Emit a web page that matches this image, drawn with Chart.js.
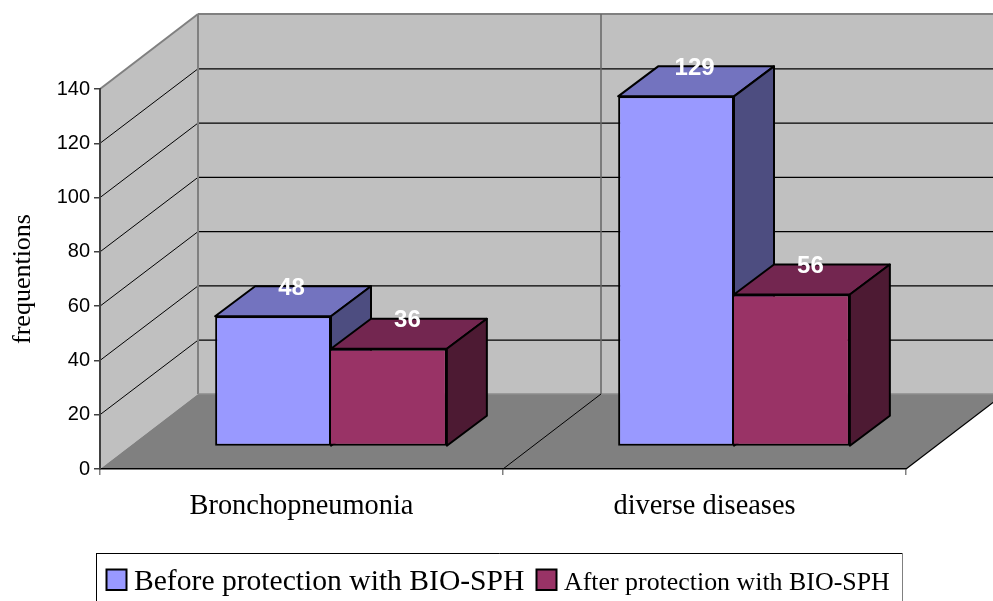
<!DOCTYPE html>
<html>
<head>
<meta charset="utf-8">
<style>html,body{margin:0;padding:0;background:#fff;overflow:hidden}canvas{display:block}</style>
<script src="https://cdn.jsdelivr.net/npm/chart.js@4/dist/chart.umd.min.js"></script>
</head>
<body>
<canvas id="c" width="993" height="601"></canvas>
<script>
const categories = ['Bronchopneumonia', 'diverse diseases'];
const seriesNames = ['Before protection with BIO-SPH', 'After protection with BIO-SPH'];
const beforeValues = [48, 129];
const afterValues = [36, 56];

const FRONT = ['#9999ff', '#993366'];
const TOP = ['#7373bf', '#732650'];
const SIDE = ['#4d4d80', '#4d1a33'];
const SERIF = '"Liberation Serif"';
const SANS = '"Liberation Sans"';
const WALL_DX = 98, WALL_DY = -75;
const BAR_DX = 29.5, BAR_DY = -22.5;
const DEPTH_DX = 40, DEPTH_DY = -30;

function poly(ctx, pts, fill, stroke, lw) {
  ctx.beginPath();
  pts.forEach((p, i) => i ? ctx.lineTo(p[0], p[1]) : ctx.moveTo(p[0], p[1]));
  ctx.closePath();
  if (fill) { ctx.fillStyle = fill; ctx.fill(); }
  if (stroke) { ctx.strokeStyle = stroke; ctx.lineWidth = lw; ctx.lineJoin = 'round'; ctx.stroke(); }
}
function line(ctx, x1, y1, x2, y2, color, lw) {
  ctx.beginPath(); ctx.moveTo(x1, y1); ctx.lineTo(x2, y2);
  ctx.strokeStyle = color; ctx.lineWidth = lw; ctx.stroke();
}

const room3d = {
  id: 'room3d',
  beforeDraw(chart) {
    const { ctx, chartArea: a, scales: { x, y } } = chart;
    const bx = a.left + WALL_DX, rx = a.right + WALL_DX;
    const by = a.bottom + WALL_DY, ty = a.top + WALL_DY;
    ctx.save();
    poly(ctx, [[bx, ty], [rx, ty], [rx, by], [bx, by]], '#c0c0c0');
    poly(ctx, [[a.left, a.top], [bx, ty], [bx, by], [a.left, a.bottom]], '#c0c0c0');
    y.ticks.forEach(t => {
      if (t.value <= 0 || t.value >= y.max) return;
      const py = y.getPixelForValue(t.value);
      line(ctx, a.left, py, bx, py + WALL_DY + 0.5, '#000', 1);
      line(ctx, bx, py + WALL_DY + 0.5, rx, py + WALL_DY + 0.5, '#000', 1.2);
    });
    line(ctx, a.left, a.top, bx, ty, '#808080', 2);
    line(ctx, bx, ty, rx, ty, '#808080', 2);
    poly(ctx, [[a.left, a.bottom], [bx, by], [rx, by], [a.right, a.bottom]], '#808080');
    line(ctx, bx, ty, bx, by, '#808080', 2);
    line(ctx, bx, by, rx, by, '#8c8c8c', 1.5);
    const mid = (x.getPixelForValue(0) + x.getPixelForValue(1)) / 2;
    line(ctx, mid + WALL_DX, ty, mid + WALL_DX, by, '#666666', 1.5);
    line(ctx, mid, a.bottom, mid + WALL_DX, by, '#000', 1);
    line(ctx, a.right, a.bottom, rx, by, '#000', 1.2);
    ctx.restore();
  },
  // Chart.js paints the last dataset first; the boxes need left-to-right order,
  // so each dataset is painted here by its own controller, in dataset order.
  beforeDatasetsDraw(chart) {
    const { ctx } = chart;
    chart.data.datasets.forEach((ds, i) => {
      const meta = chart.getDatasetMeta(i);
      ctx.save();
      ctx.translate(BAR_DX, BAR_DY);
      meta.data.forEach(el => {
        const l = el.x - el.width / 2, r = el.x + el.width / 2, t = el.y, b = el.base;
        poly(ctx, [[l, t], [l + DEPTH_DX, t + DEPTH_DY], [r + DEPTH_DX, t + DEPTH_DY], [r, t]], TOP[i], '#000', 2);
        poly(ctx, [[r, t], [r + DEPTH_DX, t + DEPTH_DY], [r + DEPTH_DX, b + DEPTH_DY], [r, b]], SIDE[i], '#000', 2);
      });
      meta.controller.draw();
      ctx.restore();
    });
  },
  beforeDatasetDraw() {
    return false;
  },
  afterDatasetsDraw(chart) {
    const { ctx } = chart;
    ctx.save();
    ctx.fillStyle = '#fff';
    ctx.font = 'bold 24px ' + SANS;
    ctx.textAlign = 'center';
    ctx.textBaseline = 'middle';
    chart.data.datasets.forEach((ds, i) => {
      chart.getDatasetMeta(i).data.forEach((el, j) => {
        ctx.fillText(String(ds.data[j]), el.x + BAR_DX + DEPTH_DX / 2 - 1.5, el.y + BAR_DY + DEPTH_DY + 2);
      });
    });
    ctx.restore();
  },
  afterDraw(chart) {
    const { ctx } = chart;
    ctx.save();
    line(ctx, 96.5, 601, 96.5, 553.5, '#000', 1);
    line(ctx, 96, 553.5, 902.5, 553.5, '#000', 1);
    line(ctx, 902.5, 553, 902.5, 601, '#808080', 1);
    const items = [
      { sw: 106.5, tx: 134, font: '29.6px ' + SERIF },
      { sw: 536.5, tx: 564, font: '25.9px ' + SERIF }
    ];
    chart.data.datasets.forEach((ds, i) => {
      const it = items[i];
      ctx.fillStyle = FRONT[i];
      ctx.fillRect(it.sw, 569.5, 20, 20.5);
      ctx.strokeStyle = '#000'; ctx.lineWidth = 2;
      ctx.strokeRect(it.sw, 569.5, 20, 20.5);
      ctx.fillStyle = '#000';
      ctx.font = it.font;
      ctx.textBaseline = 'alphabetic';
      ctx.textAlign = 'left';
      ctx.fillText(ds.label, it.tx, 590);
    });
    ctx.restore();
  }
};

new Chart(document.getElementById('c'), {
  type: 'bar',
  plugins: [room3d],
  data: {
    labels: categories,
    datasets: [
      { label: seriesNames[0], data: beforeValues, backgroundColor: FRONT[0] },
      { label: seriesNames[1], data: afterValues, backgroundColor: FRONT[1], borderWidth: { top: 2, right: 2, bottom: 2, left: 0 } }
    ]
  },
  options: {
    responsive: false,
    animation: false,
    devicePixelRatio: 1,
    layout: { padding: { left: 0, right: 87, top: 89, bottom: 0 } },
    datasets: { bar: { barPercentage: 1, categoryPercentage: 0.575, borderColor: '#000', borderWidth: 2, borderSkipped: false, clip: false } },
    plugins: { legend: { display: false }, tooltip: { enabled: false }, title: { display: false } },
    scales: {
      x: {
        afterFit(s) { s.height = 132; },
        grid: { drawOnChartArea: false, drawTicks: true, tickLength: 6, color: '#808080', lineWidth: 1.5 },
        border: { color: '#000', width: 1.5 },
        ticks: { color: '#000', font: { family: SERIF, size: 28.4 }, padding: 15, maxRotation: 0, minRotation: 0 }
      },
      y: {
        min: 0, max: 140,
        afterFit(s) { s.width = 100; },
        grid: { drawOnChartArea: false, drawTicks: true, tickLength: 6, color: '#404040', lineWidth: 1.5 },
        border: { color: '#404040', width: 2 },
        ticks: { stepSize: 20, color: '#000', font: { family: SANS, size: 20 }, padding: 4 },
        title: { display: true, text: 'frequentions', color: '#000', font: { family: SERIF, size: 26 }, padding: { top: 8, bottom: 0 } }
      }
    }
  }
});
</script>
</body>
</html>
